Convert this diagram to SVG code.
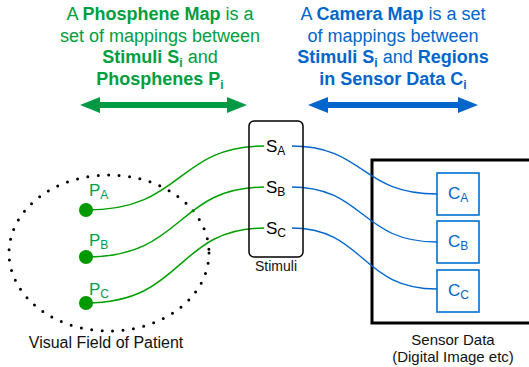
<svg xmlns="http://www.w3.org/2000/svg" width="529" height="367" viewBox="0 0 529 367">
<style>
text{font-family:"Liberation Sans",Arial,sans-serif}
.tg{fill:#009e3d;font-size:18px}
.tb{fill:#0066cc;font-size:18px}
.b{font-weight:bold}
.sub{font-size:12px}
.lbl{font-size:17px}
.gl{fill:none;stroke:#00a000;stroke-width:1.5}
.bl{fill:none;stroke:#0066cc;stroke-width:1.3}
.cbox{fill:#fff;stroke:#0070d0;stroke-width:1.6}
</style>
<rect width="529" height="367" fill="#fff"/>
<g id="title-phosphene">
<text class="tg" x="160" y="20" text-anchor="middle">A <tspan class="b">Phosphene Map</tspan> is a</text>
<text class="tg" x="160" y="42" text-anchor="middle">set of mappings between</text>
<text class="tg" x="160" y="63" text-anchor="middle"><tspan class="b">Stimuli S<tspan class="sub" dy="4">i</tspan></tspan><tspan dy="-4"> and</tspan></text>
<text class="tg b" x="160" y="85" text-anchor="middle">Phosphenes P<tspan class="sub" dy="4">i</tspan></text>
<polygon fill="#009a44" points="80,105 100,97 100,102 227,102 227,97 247,105 227,113 227,108 100,108 100,113"/>
</g>
<g id="title-camera">
<text class="tb" x="393" y="20" text-anchor="middle">A <tspan class="b">Camera Map</tspan> is a set</text>
<text class="tb" x="393" y="42" text-anchor="middle">of mappings between</text>
<text class="tb" x="393" y="63" text-anchor="middle"><tspan class="b">Stimuli S<tspan class="sub" dy="4">i</tspan></tspan><tspan dy="-4"> and </tspan><tspan class="b">Regions</tspan></text>
<text class="tb b" x="393" y="85" text-anchor="middle">in Sensor Data C<tspan class="sub" dy="4">i</tspan></text>
<polygon fill="#0066cc" points="308,105 328,97 328,102 458,102 458,97 478,105 458,113 458,108 328,108 328,113"/>
</g>
<g id="visual-field">
<ellipse cx="109" cy="253" rx="100" ry="78" fill="none" stroke="#000" stroke-width="3" stroke-linecap="round" stroke-dasharray="0 10.5"/>
<text x="106" y="348" font-size="16" text-anchor="middle" fill="#111">Visual Field of Patient</text>
</g>
<g id="sensor-data">
<rect x="372" y="160" width="170" height="163" fill="#fff" stroke="#000" stroke-width="3"/>
<text x="453" y="345" font-size="15" text-anchor="middle" fill="#111">Sensor Data</text>
<text x="453" y="362" font-size="15" text-anchor="middle" fill="#111">(Digital Image etc)</text>
</g>
<g id="connectors">
<path class="gl" d="M86 210 C185 210 175 146 265 146"/>
<path class="gl" d="M86 257 C185 257 175 187 265 187"/>
<path class="gl" d="M86 303 C185 303 175 228 265 228"/>
<path class="bl" d="M291 146 C365 146 360 194 437 194"/>
<path class="bl" d="M291 187 C365 187 360 242 437 242"/>
<path class="bl" d="M291 228 C365 228 360 289 437 289"/>
</g>
<g id="stimuli">
<rect x="249" y="121" width="54" height="136" rx="5" fill="none" stroke="#000" stroke-width="1.5"/>
<rect x="264" y="136" width="28" height="20" fill="#fff"/>
<rect x="264" y="177" width="28" height="20" fill="#fff"/>
<rect x="264" y="218" width="28" height="20" fill="#fff"/>
<text x="266" y="152" class="lbl" fill="#000">S<tspan class="sub" dy="3">A</tspan></text>
<text x="266" y="193" class="lbl" fill="#000">S<tspan class="sub" dy="3">B</tspan></text>
<text x="266" y="234" class="lbl" fill="#000">S<tspan class="sub" dy="3">C</tspan></text>
<text x="276" y="271" font-size="14" text-anchor="middle" fill="#111">Stimuli</text>
</g>
<g id="phosphene-A">
<circle cx="86" cy="210" r="7" fill="#009900"/>
<text x="89" y="196" class="lbl" fill="#00a04a">P<tspan class="sub" dy="3">A</tspan></text>
</g>
<g id="phosphene-B">
<circle cx="86" cy="257" r="7" fill="#009900"/>
<text x="89" y="246" class="lbl" fill="#00a04a">P<tspan class="sub" dy="3">B</tspan></text>
</g>
<g id="phosphene-C">
<circle cx="86" cy="303" r="7" fill="#009900"/>
<text x="89" y="295" class="lbl" fill="#00a04a">P<tspan class="sub" dy="3">C</tspan></text>
</g>
<g id="region-A">
<rect class="cbox" x="437" y="173" width="42" height="42"/>
<text x="448" y="199" class="lbl" fill="#0066cc">C<tspan class="sub" dy="3">A</tspan></text>
</g>
<g id="region-B">
<rect class="cbox" x="437" y="221" width="42" height="42"/>
<text x="448" y="247" class="lbl" fill="#0066cc">C<tspan class="sub" dy="3">B</tspan></text>
</g>
<g id="region-C">
<rect class="cbox" x="437" y="270" width="42" height="42"/>
<text x="448" y="296" class="lbl" fill="#0066cc">C<tspan class="sub" dy="3">C</tspan></text>
</g>
</svg>
